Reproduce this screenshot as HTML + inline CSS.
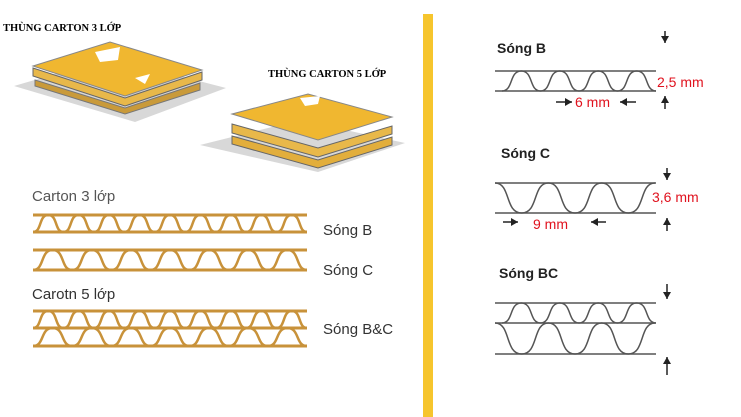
<!DOCTYPE html>
<html><head><meta charset="utf-8"><style>
html,body{margin:0;padding:0;background:#fff;width:741px;height:417px;overflow:hidden}
svg{display:block}
.t{font-family:"Liberation Sans",sans-serif}
</style></head><body>
<svg id="s" width="741" height="417" viewBox="0 0 741 417" xmlns="http://www.w3.org/2000/svg">
<rect x="423" y="14" width="10" height="403" fill="#f6c52d"/>
<polygon points="14,86 110,58 226,88 135,122" fill="#d8d8d8"/>
<polygon points="35,80 125,108 200,83 200,90 125,114 35,86" fill="#c99a3a" stroke="#777" stroke-width="1"/>
<polygon points="33,68 125,98 202,72 202,80 125,106 33,76" fill="#e8b84a" stroke="#666" stroke-width="1"/>
<polygon points="33,66 110,42 202,70 125,96" fill="#f0b730" stroke="#888" stroke-width="1"/>
<polygon points="95,52 120,47 118,60 100,62" fill="#fff"/>
<polygon points="135,78 150,74 145,84" fill="#fff"/>
<polygon points="200,145 300,120 405,143 318,172" fill="#d8d8d8"/>
<polygon points="232,136 318,160 392,137 392,145 318,168 232,144" fill="#e2ae3c" stroke="#666" stroke-width="1"/>
<polygon points="232,124 318,148 392,126 392,134 318,157 232,133" fill="#e8b84a" stroke="#666" stroke-width="1"/>
<polygon points="232,114 308,94 392,117 318,140" fill="#f0b730" stroke="#888" stroke-width="1"/>
<polygon points="300,98 320,96 318,104 305,106" fill="#fff"/>
<text x="3" y="31" font-family="Liberation Serif,serif" font-weight="bold" font-size="10.5">THÙNG CARTON 3 LỚP</text>
<text x="268" y="77" font-family="Liberation Serif,serif" font-weight="bold" font-size="10.5">THÙNG CARTON 5 LỚP</text>
<g class="t" font-size="15" fill="#333">
<text x="32" y="201" fill="#555">Carton 3 lớp</text>
<text x="323" y="235">Sóng B</text>
<text x="323" y="275">Sóng C</text>
<text x="32" y="299">Carotn 5 lớp</text>
<text x="323" y="334">Sóng B&amp;C</text>
</g>
<g class="t" font-weight="bold" font-size="14" fill="#222">
<text x="497" y="53">Sóng B</text>
<text x="501" y="158">Sóng C</text>
<text x="499" y="278">Sóng BC</text>
</g>
<g class="t" font-size="14" fill="#e0121e">
<text x="657" y="87">2,5 mm</text>
<text x="575" y="107">6 mm</text>
<text x="652" y="202">3,6 mm</text>
<text x="533" y="229">9 mm</text>
</g>
<g id="w"></g>
</svg>
<script>
var NS="http://www.w3.org/2000/svg",g=document.getElementById('w');
function el(n,a){var e=document.createElementNS(NS,n);for(var k in a)e.setAttribute(k,a[k]);g.appendChild(e);}
function line(x1,x2,y,c,w){el('line',{x1:x1,x2:x2,y1:y,y2:y,stroke:c,'stroke-width':w});}
function wave(x0,x1,n,yt,yb,c,w,startTop){var P=(x1-x0)/n,d='';
 var y0=startTop?yt:yb,y1=startTop?yb:yt;d='M'+x0+','+y0;
 for(var i=0;i<n;i++){var a=x0+i*P;
  d+=' C'+(a+P*0.3)+','+y0+' '+(a+P*0.18)+','+y1+' '+(a+P/2)+','+y1;
  d+=' C'+(a+P*0.82)+','+y1+' '+(a+P*0.7)+','+y0+' '+(a+P)+','+y0;}
 el('path',{d:d,fill:'none',stroke:c,'stroke-width':w});}
var br='#c8923a';
line(33,307,215,br,3);line(33,307,232,br,3);wave(33,307,9,215,232,br,2.5,false);
line(33,307,250,br,3);line(33,307,270,br,3);wave(33,307,7,250,270,br,2.5,false);
line(33,307,311,br,3);line(33,307,328,br,3);line(33,307,346,br,3);
wave(33,307,9,311,328,br,2.5,false);wave(33,307,7,328,346,br,2.5,false);
var gr='#555';
line(495,656,71,gr,1.5);line(495,656,91,gr,1.5);wave(502,656,4,71,91,gr,1.5,false);
line(495,656,183,gr,1.5);line(495,656,213,gr,1.5);wave(495,655,3,183,213,gr,1.5,true);
line(495,656,303,gr,1.5);line(495,656,323,gr,1.5);line(495,656,354,gr,1.5);
wave(502,656,4,303,323,gr,1.5,false);wave(495,655,3,323,354,gr,1.5,true);
function varr(x,y1,y2){el('line',{x1:x,x2:x,y1:y1,y2:y2,stroke:'#222','stroke-width':1.5});
 var s=y2>y1?-7:7;el('polygon',{points:(x-4)+','+(y2+s)+' '+(x+4)+','+(y2+s)+' '+x+','+y2,fill:'#222'});}
function harr(y,x1,x2){el('line',{x1:x1,x2:x2,y1:y,y2:y,stroke:'#222','stroke-width':1.5});
 var s=x2>x1?-7:7;el('polygon',{points:(x2+s)+','+(y-4)+' '+(x2+s)+','+(y+4)+' '+x2+','+y,fill:'#222'});}
varr(665,31,43);varr(665,109,96);varr(667,168,180);varr(667,231,218);varr(667,284,299);varr(667,375,357);
harr(102,556,572);harr(102,636,620);harr(222,503,518);harr(222,606,591);
</script>
</body></html>
